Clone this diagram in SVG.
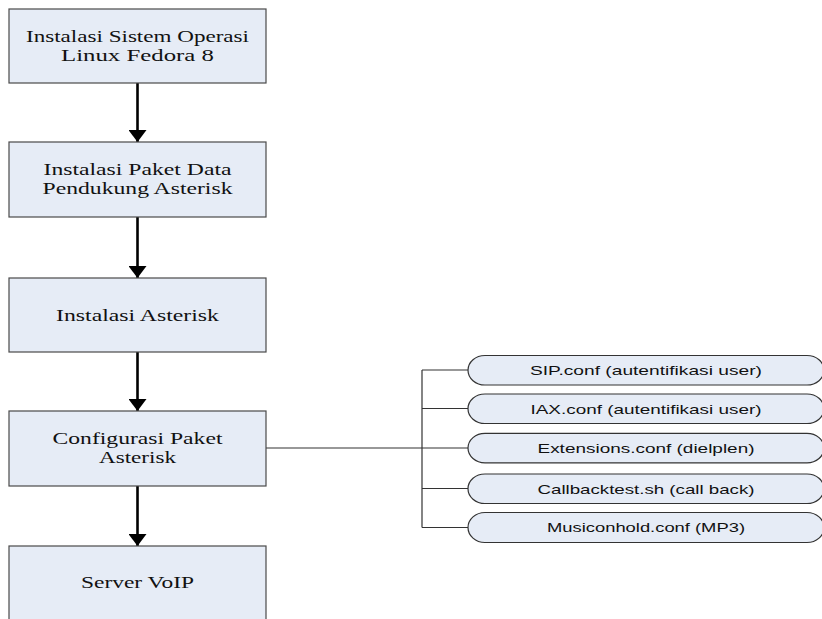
<svg xmlns="http://www.w3.org/2000/svg" width="822" height="619" viewBox="0 0 822 619">
<defs>
<style>
.box{fill:#e6ecf6;stroke:#4a4a4a;stroke-width:1.2}
.pill{fill:#e6ecf6;stroke:#333;stroke-width:1.2}
.bt{font-family:"Liberation Serif","Times New Roman",serif;font-size:16.5px;fill:#111;text-anchor:middle}
.pt{font-family:"Liberation Sans",Arial,sans-serif;font-size:13.5px;fill:#111;text-anchor:middle}
.arrow{stroke:#000;stroke-width:2.6;fill:none}
.line{stroke:#333;stroke-width:1.2;fill:none}
</style>
<marker id="ah" markerWidth="12" markerHeight="18" refX="12" refY="9" orient="auto" markerUnits="userSpaceOnUse" viewBox="0 0 12 18">
<path d="M0,0 L12,9 L0,18 Z" fill="#000"/>
</marker>
</defs>
<rect width="822" height="619" fill="#fff"/>
<g id="connectors">
<line class="arrow" x1="137.5" y1="83" x2="137.5" y2="142" marker-end="url(#ah)"/>
<line class="arrow" x1="137.5" y1="217" x2="137.5" y2="278" marker-end="url(#ah)"/>
<line class="arrow" x1="137.5" y1="352" x2="137.5" y2="411" marker-end="url(#ah)"/>
<line class="arrow" x1="137.5" y1="486" x2="137.5" y2="546" marker-end="url(#ah)"/>
<line class="line" x1="266" y1="448" x2="468" y2="448"/>
<line class="line" x1="422" y1="370" x2="422" y2="527.5"/>
<line class="line" x1="422" y1="370" x2="468" y2="370"/>
<line class="line" x1="422" y1="408.5" x2="468" y2="408.5"/>
<line class="line" x1="422" y1="488.5" x2="468" y2="488.5"/>
<line class="line" x1="422" y1="527.5" x2="468" y2="527.5"/>
</g>
<g id="n1">
<rect class="box" x="9" y="9" width="257" height="74"/>
<text class="bt" x="137.5" y="42" textLength="223" lengthAdjust="spacingAndGlyphs">Instalasi Sistem Operasi</text>
<text class="bt" x="137.5" y="61" textLength="153" lengthAdjust="spacingAndGlyphs">Linux Fedora 8</text>
</g>
<g id="n2">
<rect class="box" x="9" y="142" width="257" height="75"/>
<text class="bt" x="137.5" y="175" textLength="188" lengthAdjust="spacingAndGlyphs">Instalasi Paket Data</text>
<text class="bt" x="137.5" y="194" textLength="190" lengthAdjust="spacingAndGlyphs">Pendukung Asterisk</text>
</g>
<g id="n3">
<rect class="box" x="9" y="278" width="257" height="74"/>
<text class="bt" x="137.5" y="320.5" textLength="163" lengthAdjust="spacingAndGlyphs">Instalasi Asterisk</text>
</g>
<g id="n4">
<rect class="box" x="9" y="411" width="257" height="75"/>
<text class="bt" x="137.5" y="444" textLength="170" lengthAdjust="spacingAndGlyphs">Configurasi Paket</text>
<text class="bt" x="137.5" y="463" textLength="77" lengthAdjust="spacingAndGlyphs">Asterisk</text>
</g>
<g id="n5">
<rect class="box" x="9" y="546" width="257" height="80"/>
<text class="bt" x="137.5" y="587.5" textLength="113" lengthAdjust="spacingAndGlyphs">Server VoIP</text>
</g>
<g id="f1">
<rect class="pill" x="468" y="355.5" width="356" height="29.5" rx="17" ry="14.75"/>
<text class="pt" x="646" y="375" textLength="232" lengthAdjust="spacingAndGlyphs">SIP.conf (autentifikasi user)</text>
</g>
<g id="f2">
<rect class="pill" x="468" y="394" width="356" height="29.5" rx="17" ry="14.75"/>
<text class="pt" x="646" y="413.5" textLength="231" lengthAdjust="spacingAndGlyphs">IAX.conf (autentifikasi user)</text>
</g>
<g id="f3">
<rect class="pill" x="468" y="433.3" width="356" height="29.5" rx="17" ry="14.75"/>
<text class="pt" x="646" y="453" textLength="217" lengthAdjust="spacingAndGlyphs">Extensions.conf (dielplen)</text>
</g>
<g id="f4">
<rect class="pill" x="468" y="474" width="356" height="29.5" rx="17" ry="14.75"/>
<text class="pt" x="646" y="493.5" textLength="217" lengthAdjust="spacingAndGlyphs">Callbacktest.sh (call back)</text>
</g>
<g id="f5">
<rect class="pill" x="468" y="512.5" width="356" height="30" rx="17" ry="15"/>
<text class="pt" x="646" y="532.3" textLength="198" lengthAdjust="spacingAndGlyphs">Musiconhold.conf (MP3)</text>
</g>
</svg>
